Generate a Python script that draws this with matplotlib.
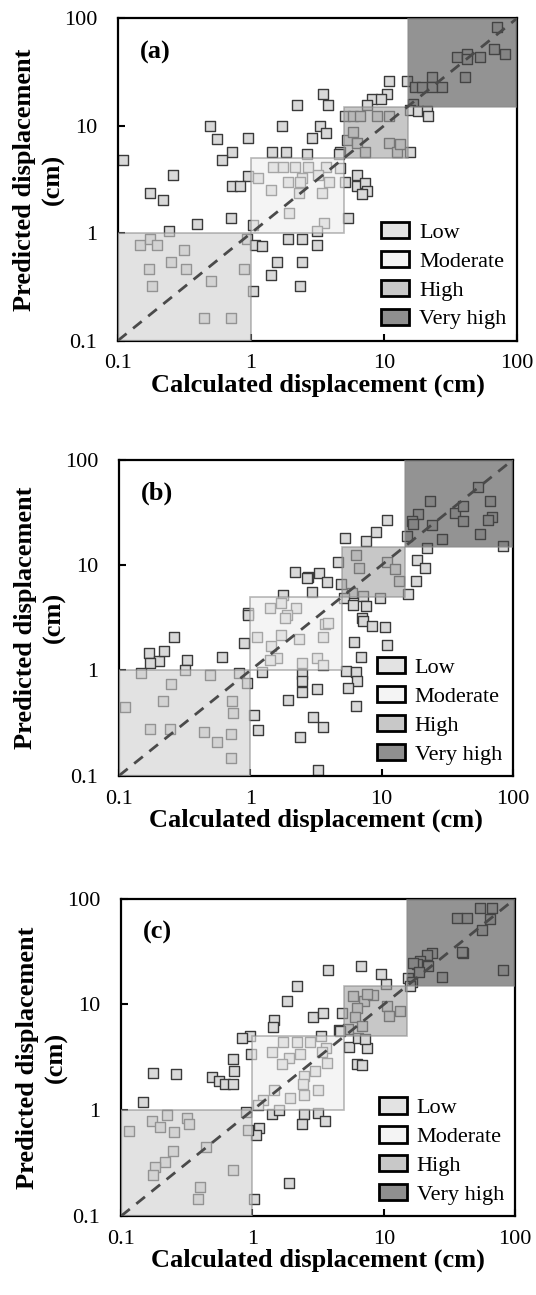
import numpy as np
import matplotlib.pyplot as plt
from matplotlib.patches import Rectangle, Patch

plt.rcParams['font.family'] = ['Liberation Serif', 'DejaVu Serif']

# 分级区间 (cm)
levels = ['Low', 'Moderate', 'High', 'Very high']
level_bounds = [(0.1, 1), (1, 5), (5, 15), (15, 100)]
level_fill = ['#d0d0d0', '#ededed', '#a3a3a3', '#4c4c4c']
legend_fill = ['#e3e3e3', '#f4f4f4', '#c8c8c8', '#8f8f8f']

panel_tags = ['(a)', '(b)', '(c)']
tick_values = [0.1, 1, 10, 100]
tick_labels = ['0.1', '1', '10', '100']

# panel (a): calculated / predicted displacement (cm)
a_calc = [70.3, 35.2, 41.9, 41.9, 52.7, 66.4, 81.3, 40.6, 10.8, 14.8, 17.1, 19.2, 22.8, 22.8, 27.1,
          10.5, 8.07, 9.49, 7.41, 16.6, 15.7, 18.1, 20.9, 21.5,
          5.09, 5.88, 6.61, 8.81, 10.8, 5.30, 5.88, 6.22, 7.19, 10.8, 12.4, 13.2, 15.7, 4.67,
          2.20, 3.50, 3.81, 0.492, 1.70, 3.30, 3.64, 2.86, 0.552, 0.955, 0.716, 0.609, 0.11,
          1.43, 1.82, 2.65, 4.59,
          1.45, 1.75, 2.14, 2.70, 3.64, 4.67, 0.955, 1.135, 2.40, 3.21, 6.22, 0.261, 0.716, 0.827,
          1.91, 2.33, 3.86, 5.09, 6.22, 7.19, 7.41, 6.79, 1.41, 2.31, 3.42, 0.174, 0.217, 1.93,
          0.39, 0.703, 1.04, 3.54, 3.12, 5.39, 0.242,
          0.146, 0.174, 0.198, 0.315, 0.25, 0.325, 0.171, 0.179, 0.5, 0.886, 0.928, 1.03, 0.446, 0.703,
          1.07, 1.20, 1.91, 2.40, 3.12, 1.56, 2.43, 1.41, 2.33]
a_pred = [81.9, 43.1, 46.3, 41.3, 43.1, 51.2, 46.3, 28.5, 26.0, 26.0, 22.7, 22.7, 28.1, 22.7, 22.7,
          19.7, 17.6, 17.6, 15.6, 15.9, 14.0, 13.8, 13.8, 12.3,
          12.3, 12.3, 12.3, 12.3, 12.3, 7.36, 8.79, 6.85, 5.74, 6.85, 5.74, 6.76, 5.74, 5.74,
          15.6, 19.7, 15.6, 9.93, 9.93, 9.93, 8.61, 7.62, 7.46, 7.62, 5.74, 4.80, 4.80,
          5.74, 5.74, 5.45, 5.45,
          4.10, 4.10, 4.10, 4.10, 4.10, 4.02, 3.43, 3.24, 3.24, 3.48, 3.48, 3.48, 2.75, 2.75,
          2.96, 2.96, 2.96, 2.96, 2.75, 2.91, 2.44, 2.32, 2.52, 2.35, 2.35, 2.35, 2.04, 1.53,
          1.22, 1.38, 1.19, 1.24, 1.04, 1.38, 1.04,
          0.767, 0.885, 0.767, 0.69, 0.535, 0.463, 0.463, 0.324, 0.361, 0.463, 0.885, 0.287, 0.163, 0.163,
          0.767, 0.752, 0.885, 0.885, 0.767, 0.535, 0.535, 0.407, 0.32]

# panel (b)
b_calc = [54.5, 23.3, 66.8, 36.2, 41.9, 41.9, 68.8, 64.9, 19.0, 16.9, 17.2, 24.0, 28.6, 56.1, 84.4,
          22.0, 15.5, 10.9, 9.05, 7.60, 5.26, 18.5, 21.4, 18.2, 15.9,
          6.38, 4.68, 6.76, 10.9, 12.6, 13.6, 4.87, 5.98, 9.71, 2.19, 2.77, 2.69, 3.33, 3.86, 2.93,
          1.78, 1.70, 1.41, 2.21, 1.89, 1.84, 0.966, 0.955, 1.12, 1.71, 2.35, 3.56, 3.70, 3.88,
          0.90, 1.44, 1.59, 1.41, 3.20, 3.56, 2.46, 5.17, 6.09, 7.25, 7.55, 7.04, 7.25, 8.39, 10.7,
          6.19, 11.0, 6.96,
          1.22, 0.824, 0.938, 2.46, 2.49, 2.46, 3.20, 1.95, 5.35, 6.38, 6.53, 5.57, 6.38, 1.07, 1.14,
          3.02, 3.59, 2.39, 3.30,
          0.170, 0.203, 0.172, 0.220, 0.262, 0.327, 0.318, 0.612, 0.146, 0.493, 0.247, 0.215, 0.111,
          0.721, 0.733, 0.172, 0.244, 0.444, 0.712, 0.561, 0.708]
b_pred = [54.5, 40.7, 40.7, 31.5, 36.5, 26.2, 28.7, 26.6, 30.4, 26.2, 24.4, 23.9, 17.5, 19.9, 15.2,
          14.6, 18.9, 26.6, 20.8, 17.0, 18.2, 11.2, 9.29, 7.04, 5.26,
          12.4, 10.7, 9.44, 10.7, 9.10, 7.04, 6.68, 5.45, 4.89, 8.57, 7.69, 7.46, 8.45, 6.93, 5.57,
          5.18, 4.32, 3.87, 3.93, 3.39, 3.11, 3.52, 3.39, 2.06, 2.19, 2.00, 2.06, 2.73, 2.79,
          1.82, 1.69, 1.31, 1.26, 1.31, 1.13, 1.17, 4.89, 4.16, 5.07, 4.13, 3.15, 2.94, 2.63, 2.57,
          1.86, 1.75, 1.33,
          0.964, 0.944, 0.757, 0.923, 0.786, 0.622, 0.668, 0.518, 0.993, 0.964, 0.786, 0.679, 0.454, 0.379, 0.272,
          0.357, 0.289, 0.232, 0.113,
          1.46, 1.23, 1.17, 1.54, 2.08, 1.26, 1.01, 1.33, 0.944, 0.910, 0.746, 0.515, 0.450,
          0.515, 0.393, 0.277, 0.278, 0.262, 0.249, 0.211, 0.148]

# panel (c)
c_calc = [54.2, 66.4, 64.5, 36.0, 42.9, 55.8, 40.4, 39.3, 23.2, 21.3, 18.9, 20.6, 17.8, 16.8, 21.9,
          18.4, 27.7, 81.5, 15.4, 16.3, 10.4, 9.55, 15.7, 3.79, 6.68, 2.18, 1.82, 2.91, 3.47, 4.84,
          1.45, 1.43,
          5.88, 7.08, 8.34, 7.42, 10.5, 11.0, 13.3, 6.23, 6.05, 6.80, 5.38, 4.57,
          0.96, 0.829, 0.971, 1.40, 1.70, 2.18, 2.72, 3.31, 3.64, 1.91, 1.67, 2.31, 3.41, 3.68, 3.00,
          2.45, 2.42, 1.45, 1.21, 1.11, 1.94, 2.45, 3.14, 5.48, 6.34, 7.42, 7.21, 6.23, 6.80, 4.65,
          0.716, 0.725, 0.49, 0.561, 0.619, 0.716, 0.174, 0.262, 0.146,
          1.40, 1.58, 2.45, 2.38, 3.18, 3.57, 1.13, 1.06, 1.91,
          0.223, 0.32, 0.326, 0.171, 0.198, 0.253, 0.114, 0.247, 0.216, 0.182, 0.174, 0.444, 0.708,
          0.40, 0.388, 0.889, 0.932, 1.03]
c_pred = [81.5, 81.5, 64.0, 65.5, 66.4, 50.7, 30.8, 31.5, 30.8, 29.3, 25.9, 23.5, 24.4, 24.8, 23.0,
          20.3, 18.2, 21.4, 17.9, 16.3, 15.7, 19.3, 14.8, 21.4, 23.2, 14.8, 10.9, 7.69, 8.27, 8.27,
          7.14, 6.17,
          11.9, 10.9, 12.2, 12.6, 9.78, 7.86, 8.77, 9.30, 7.57, 6.31, 5.86, 5.74,
          5.07, 4.78, 3.44, 3.52, 4.44, 4.38, 4.38, 5.07, 3.92, 3.15, 2.76, 3.44, 3.52, 2.82, 2.35,
          2.11, 1.76, 1.57, 1.26, 1.12, 1.31, 1.39, 1.57, 3.98, 4.78, 3.92, 4.71, 2.76, 2.68, 5.65,
          3.08, 2.35, 2.06, 1.89, 1.76, 1.76, 2.27, 2.19, 1.20,
          0.923, 1.01, 0.930, 0.741, 0.943, 0.785, 0.679, 0.578, 0.203,
          0.910, 0.845, 0.741, 0.785, 0.694, 0.617, 0.631, 0.416, 0.322, 0.288, 0.244, 0.448, 0.272,
          0.189, 0.146, 0.964, 0.654, 0.146]

panels = [(a_calc, a_pred), (b_calc, b_pred), (c_calc, c_pred)]

# axes boxes in figure fraction [left, bottom, width, height]
boxes = [[0.220, 0.737, 0.745, 0.249],
         [0.222, 0.401, 0.735, 0.244],
         [0.226, 0.061, 0.735, 0.245]]


def draw_panel(ax, calc, pred, tag):
    """画一个子图"""
    ax.set_xscale('log')
    ax.set_yscale('log')

    ax.scatter(calc, pred, marker='s', s=46, facecolor='#d9d9d9',
               edgecolor='#3a3a3a', linewidths=1.0, zorder=2)

    # 分级方块 (盖在点上, 半透明)
    for (lo, hi), col in zip(level_bounds, level_fill):
        ax.add_patch(Rectangle((lo, lo), hi - lo, hi - lo, facecolor=col,
                               edgecolor='#8a8a8a', lw=1.2, alpha=0.6, zorder=3))

    ax.plot([0.1, 100], [0.1, 100], ls=(0, (4, 3)), color='#4a4a4a', lw=2, zorder=4)

    ax.set_xlim(0.1, 100)
    ax.set_ylim(0.1, 100)
    ax.set_xticks(tick_values)
    ax.set_xticklabels(tick_labels)
    ax.set_yticks(tick_values)
    ax.set_yticklabels(tick_labels)
    ax.minorticks_off()
    ax.tick_params(direction='in', length=5, width=1.5, labelsize=16)
    ax.tick_params(axis='x', pad=10)
    ax.tick_params(axis='y', pad=15)
    for sp in ax.spines.values():
        sp.set_linewidth(1.6)

    ax.set_xlabel('Calculated displacement (cm)', fontsize=19, fontweight='bold', labelpad=0)
    ax.set_ylabel('Predicted displacement\n(cm)', fontsize=19, fontweight='bold', labelpad=-1,
                  linespacing=1.3)
    ax.text(0.055, 0.895, tag, transform=ax.transAxes, fontsize=19, fontweight='bold',
            va='center', ha='left', zorder=5)

    handles = [Patch(facecolor=c, edgecolor='black', lw=2) for c in legend_fill]
    ax.legend(handles, levels, loc='lower right', frameon=False, fontsize=16,
              handlelength=1.25, handleheight=0.75, handletextpad=0.45, labelspacing=0.36,
              borderaxespad=0.1)


def main():
    fig = plt.figure(figsize=(5.36, 12.95), dpi=100)
    for (calc, pred), tag, box in zip(panels, panel_tags, boxes):
        ax = fig.add_axes(box)
        draw_panel(ax, calc, pred, tag)
    fig.savefig('out.png', dpi=100)


if __name__ == '__main__':
    main()
